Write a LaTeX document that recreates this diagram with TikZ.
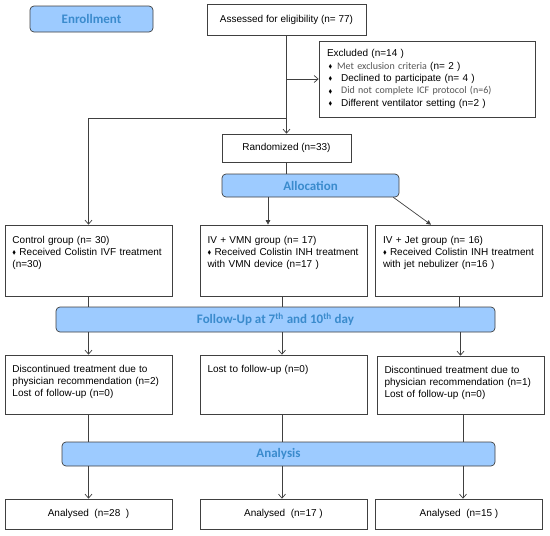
\documentclass[tikz,border=0pt]{standalone}
\usepackage{amssymb}
\usepackage{fontspec}
\setmainfont{Liberation Sans}
\newfontfamily\calibri{Carlito}
\usetikzlibrary{arrows.meta}
\definecolor{barfill}{HTML}{9DCBFF}
\definecolor{bartext}{HTML}{3A8BCD}
\definecolor{boxline}{HTML}{404040}
\definecolor{greytext}{HTML}{555555}
\newcommand{\bul}{\raisebox{0.6pt}{\scalebox{0.55}{$\blacklozenge$}}}
\newcommand{\toptext}[2]{\vbox to #1{#2\vfill}}

\begin{document}
\begin{tikzpicture}[x=1pt, y=-1pt,
    box/.style={rectangle, draw=boxline, line width=0.7pt, inner sep=0pt, font=\fontsize{10}{12.3}\selectfont},
    grp/.style={box, minimum width=167pt, text width=152pt, inner xsep=7.5pt, align=left},
    head/.style={rectangle, rounded corners=4pt, draw=boxline, line width=0.7pt, fill=barfill, text=bartext, inner sep=0pt, font=\calibri\bfseries\fontsize{13}{15}\selectfont},
    line/.style={draw=boxline, line width=0.7pt},
    arr/.style={line, -{Straight Barb[length=4pt,width=7pt]}},
    farr/.style={line, -{Triangle[length=4.5pt,width=4.5pt]}}]

    \useasboundingbox (0,0) rectangle (550,536);

    \node[head, minimum width=123pt, minimum height=26pt] (enroll) at (91.5,19) {Enrollment};
    \node[box, minimum width=159pt, minimum height=31pt] (assess) at (286.5,19.5) {Assessed for eligibility (n= 77)};
    \node[box, minimum width=216pt, minimum height=76pt, text width=200pt, inner xsep=8pt, align=left] (excl) at (427,79) {Excluded (n=14 )\\
        \hspace*{1.5pt}\bul\hspace{5pt}{\calibri\color{greytext}Met exclusion criteria} (n= 2 )\\
        \hspace*{1.5pt}\bul\hspace{9pt}Declined to participate (n= 4 )\\
        \hspace*{1.5pt}\bul\hspace{9pt}{\calibri\color{greytext}Did not complete ICF protocol (n=6)}\\
        \hspace*{1.5pt}\bul\hspace{9pt}Different ventilator setting (n=2 )};
    \node[box, minimum width=129pt, minimum height=28pt] (rand) at (286.5,148) {Randomized (n=33)};
    \node[head, minimum width=177pt, minimum height=23pt] (alloc) at (310.5,185.5) {Allocation};

    \node[grp, inner ysep=11pt] (ctrl) at (88.5,260.5) {\toptext{49pt}{Control group (n= 30)\\
        \bul\ Received Colistin IVF treatment\\ (n=30)}};
    \node[grp, inner ysep=11pt] (vmn) at (283.5,260.5) {\toptext{49pt}{IV + VMN group (n= 17)\\
        \bul\ Received Colistin INH treatment\\ with VMN device (n=17 )}};
    \node[grp, inner ysep=11pt] (jet) at (459,260.5) {\toptext{49pt}{IV + Jet group (n= 16)\\
        \bul\ Received Colistin INH treatment\\ with jet nebulizer (n=16 )}};

    \node[head, minimum width=439pt, minimum height=25pt] (follow) at (275.5,319.5) {Follow-Up at 7\textsuperscript{th} and 10\textsuperscript{th} day};

    \node[grp, inner ysep=10pt] (disc1) at (88.5,384.5) {\toptext{39pt}{Discontinued treatment due to\\
        physician recommendation (n=2)\\ Lost of follow-up (n=0)}};
    \node[grp, inner ysep=10pt] (lost) at (283.5,384.5) {\toptext{39pt}{Lost to follow-up (n=0)}};
    \node[grp, inner ysep=10pt] (disc2) at (460.5,385) {\toptext{38pt}{Discontinued treatment due to\\
        physician recommendation (n=1)\\ Lost of follow-up (n=0)}};

    \node[head, minimum width=433pt, minimum height=24pt] (anal) at (278.5,454) {Analysis};

    \node[box, minimum width=167pt, minimum height=30pt] (an1) at (88.5,514) {Analysed\ \ (n=28\ \ )};
    \node[box, minimum width=167pt, minimum height=30pt] (an2) at (283.5,514) {Analysed\ \ (n=17 )};
    \node[box, minimum width=167pt, minimum height=30pt] (an3) at (459,514) {Analysed\ \ (n=15 )};

    \coordinate (split) at (286.5,118);

    \draw[arr] (assess.south) -- (rand.north);
    \draw[arr] (assess.south |- excl.west) -- (excl.west);
    \draw[arr] (split) -| (ctrl.north);
    \draw[line] (rand.south) -- (rand.south |- alloc.north);
    \draw[farr] ([xshift=-42.5pt]alloc.south) -- ([xshift=-15.5pt]vmn.north);
    \draw[farr] ([xshift=-6pt]alloc.south east) -- ([xshift=-28pt]jet.north);

    \draw[line] (ctrl.south) -- (ctrl.south |- follow.north);
    \draw[line] ([xshift=-1.5pt]vmn.south) -- ([xshift=-1.5pt]vmn.south |- follow.north);
    \draw[line] (jet.south) -- (jet.south |- follow.north);

    \draw[arr] (follow.south -| disc1.north) -- (disc1.north);
    \draw[arr] ([xshift=-1.5pt]follow.south -| lost.north) -- ([xshift=-1.5pt]lost.north);
    \draw[arr] (follow.south -| disc2.north) -- (disc2.north);

    \draw[line] (disc1.south) -- (disc1.south |- anal.north);
    \draw[line] ([xshift=-1.5pt]lost.south) -- ([xshift=-1.5pt]lost.south |- anal.north);
    \draw[line] ([xshift=2.5pt]disc2.south) -- ([xshift=2.5pt]disc2.south |- anal.north);

    \draw[arr] (anal.south -| an1.north) -- (an1.north);
    \draw[arr] ([xshift=-1.5pt]anal.south -| an2.north) -- ([xshift=-1.5pt]an2.north);
    \draw[arr] ([xshift=4pt]anal.south -| an3.north) -- ([xshift=4pt]an3.north);
\end{tikzpicture}
\end{document}
